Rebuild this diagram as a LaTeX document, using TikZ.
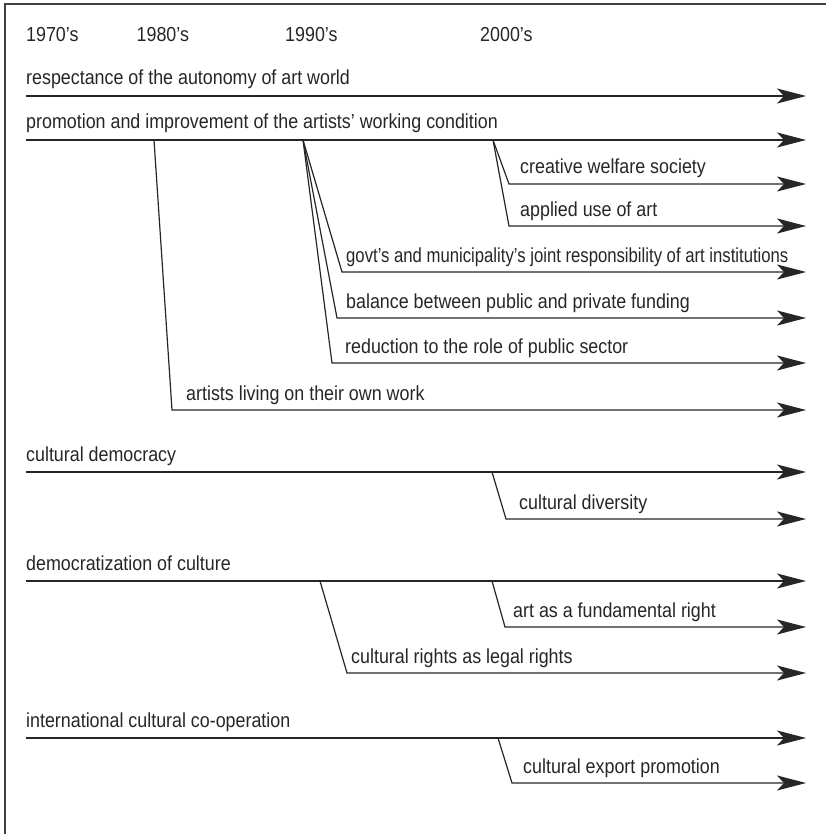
\documentclass[tikz,border=0pt]{standalone}
\usepackage{fontspec}
\usepackage{graphicx}
\setmainfont{Liberation Sans}[FakeStretch=0.88]
\usetikzlibrary{arrows.meta}

\tikzset{
  lbl/.style={anchor=base west, inner sep=0pt, font=\fontsize{20.3}{24}\selectfont, text=black!85},
  flow/.style={line width=1.2pt, draw=black!85, -{Stealth[length=29pt,width=15pt,inset=7pt]}},
  frame/.style={line width=1.5pt, draw=black!75},
}

\begin{document}
\begin{tikzpicture}[x=1pt,y=-1pt]

            \useasboundingbox (0,0) rectangle (826,834);

            % Marco
            \draw[frame] (5,834) -- (5,4) -- (826,4);

            % Decadas
            \node[lbl] (d70) at (26,41.5) {1970's};
            \node[lbl] (d80) at (136.5,41.5) {1980's};
            \node[lbl] (d90) at (285,41.5) {1990's};
            \node[lbl] (d00) at (480,41.5) {2000's};

            \coordinate (tip) at (806,0);

            % Lineas principales
            \coordinate (respS) at (26,96);
            \coordinate (promS) at (26,140);
            \coordinate (demS) at (26,472);
            \coordinate (dcuS) at (26,581);
            \coordinate (intS) at (26,738);
            \node[lbl] (resp) at (26,85) {respectance of the autonomy of art world};
            \node[lbl] (prom) at (26,129) {promotion and improvement of the artists' working condition};
            \node[lbl] (dem) at (26,461) {cultural democracy};
            \node[lbl] (dcu) at (26,570) {democratization of culture};
            \node[lbl] (int) at (26,727) {international cultural co-operation};
            \draw[flow] (respS) -- (respS -| tip);
            \draw[flow] (promS) -- (promS -| tip);
            \draw[flow] (demS) -- (demS -| tip);
            \draw[flow] (dcuS) -- (dcuS -| tip);
            \draw[flow] (intS) -- (intS -| tip);

            % Ramas
            \coordinate (b80) at (154,140);
            \coordinate (b90) at (303,140);
            \coordinate (b00) at (493,140);
            \coordinate (bdiv) at (492,472);
            \coordinate (bart) at (492,581);
            \coordinate (brig) at (320,581);
            \coordinate (bexp) at (498,738);

            \coordinate (creK) at (509,184);
            \coordinate (appK) at (509,226);
            \coordinate (govK) at (342,272);
            \coordinate (balK) at (337,318);
            \coordinate (redK) at (332,363);
            \coordinate (livK) at (172,410);
            \coordinate (divK) at (506,519);
            \coordinate (artK) at (505,627);
            \coordinate (rigK) at (347,673);
            \coordinate (expK) at (512,783);

            \draw[flow] (b00) -- (creK) -- (creK -| tip);
            \draw[flow] (b00) -- (appK) -- (appK -| tip);
            \draw[flow] (b90) -- (govK) -- (govK -| tip);
            \draw[flow] (b90) -- (balK) -- (balK -| tip);
            \draw[flow] (b90) -- (redK) -- (redK -| tip);
            \draw[flow] (b80) -- (livK) -- (livK -| tip);
            \draw[flow] (bdiv) -- (divK) -- (divK -| tip);
            \draw[flow] (bart) -- (artK) -- (artK -| tip);
            \draw[flow] (brig) -- (rigK) -- (rigK -| tip);
            \draw[flow] (bexp) -- (expK) -- (expK -| tip);

            % Etiquetas de las ramas
            \node[lbl] (cre) at (520,174) {creative welfare society};
            \node[lbl] (app) at (520,216) {applied use of art};
            \node[lbl] (gov) at (346,262) {\scalebox{0.935}[1]{govt's and municipality's joint responsibility of art institutions}};
            \node[lbl] (bal) at (346,308) {balance between public and private funding};
            \node[lbl] (red) at (345,353) {reduction to the role of public sector};
            \node[lbl] (liv) at (186,400) {artists living on their own work};
            \node[lbl] (div) at (519,509) {cultural diversity};
            \node[lbl] (art) at (513,617) {art as a fundamental right};
            \node[lbl] (rig) at (351,663) {cultural rights as legal rights};
            \node[lbl] (exp) at (523,773) {cultural export promotion};
        \end{tikzpicture}
\end{document}
